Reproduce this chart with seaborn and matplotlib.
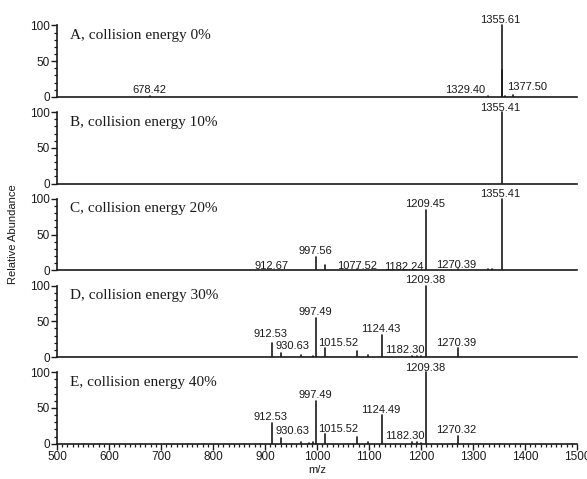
import numpy as np
import pandas as pd
import matplotlib
matplotlib.use("Agg")
import matplotlib.pyplot as plt
from matplotlib.ticker import MultipleLocator, FixedLocator
import seaborn as sns

# ---------------- data ----------------
panel_titles = ["A, collision energy 0%", "B, collision energy 10%",
                "C, collision energy 20%", "D, collision energy 30%",
                "E, collision energy 40%"]

mz_A = [678.42, 1329.40, 1355.61, 1356.61, 1361.0, 1377.50]
int_A = [1, 1.5, 100, 38, 1, 2.5]

mz_B = [1355.41]
int_B = [100]

mz_C = [912.67, 997.56, 1015.52, 1077.52, 1098.0, 1182.24, 1209.45, 1270.39, 1329.0, 1336.0, 1355.41]
int_C = [1, 19, 8, 2, 1, 1, 84, 2.5, 1.5, 1.5, 100]

mz_D = [912.53, 930.63, 970.0, 993.0, 997.49, 1015.52, 1077.0, 1098.0, 1124.43, 1182.30, 1192.0, 1200.0, 1209.38, 1270.39]
int_D = [20, 6, 2.5, 2, 54, 12, 8, 3, 31, 2, 2, 1.5, 100, 12]

mz_E = [912.53, 930.63, 970.0, 985.0, 993.0, 997.49, 1015.52, 1077.0, 1098.0, 1124.49, 1182.30, 1192.0, 1200.0, 1209.38, 1270.32]
int_E = [29, 8, 3, 1.5, 2, 60, 13, 9, 3, 40, 2, 2.5, 1.5, 100, 11]

# labelled peaks per panel
labels_A = ["678.42", "1329.40", "1355.61", "1377.50"]
labels_B = ["1355.41"]
labels_C = ["912.67", "997.56", "1077.52", "1182.24", "1209.45", "1270.39", "1355.41"]
labels_D = ["912.53", "930.63", "997.49", "1015.52", "1124.43", "1182.30", "1209.38", "1270.39"]
labels_E = ["912.53", "930.63", "997.49", "1015.52", "1124.49", "1182.30", "1209.38", "1270.32"]

y_ticks = [0, 50, 100]
x_ticks = [500, 600, 700, 800, 900, 1000, 1100, 1200, 1300, 1400, 1500]

# ---------------- layout (label placement: ha, x-shift in m/z, baseline height) ----------------
label_layout = [
    {"678.42": ("center", 0, 6), "1329.40": ("right", -5, 6),
     "1355.61": ("center", -3, 104), "1377.50": ("left", -11, 9.4)},
    {"1355.41": ("center", -3, 102)},
    {"912.67": ("center", -1, 2.4), "997.56": ("center", 0, 23.4),
     "1077.52": ("center", -1, 2), "1182.24": ("center", -16, 0.5),
     "1209.45": ("center", -2, 88.7), "1270.39": ("center", -3, 3.5),
     "1355.41": ("center", -3, 102.7)},
    {"912.53": ("center", -1, 28), "930.63": ("center", 23, 10.8),
     "997.49": ("center", -1, 58.8), "1015.52": ("left", -13, 16),
     "1124.43": ("center", -1, 34.6), "1182.30": ("right", 24, 6.3),
     "1209.38": ("center", -2, 103), "1270.39": ("center", -3, 16)},
    {"912.53": ("center", -1, 33), "930.63": ("center", 23, 13.2),
     "997.49": ("center", -1, 63.6), "1015.52": ("left", -13, 16.8),
     "1124.49": ("center", -1, 43.4), "1182.30": ("right", 24, 6.6),
     "1209.38": ("center", -2, 102), "1270.32": ("center", -3, 14.6)},
]

panels = [(mz_A, int_A, labels_A), (mz_B, int_B, labels_B), (mz_C, int_C, labels_C),
          (mz_D, int_D, labels_D), (mz_E, int_E, labels_E)]

sns.set_style("ticks")
plt.rcParams["font.family"] = ["Liberation Sans", "DejaVu Sans"]

fig = plt.figure(figsize=(5.87, 4.79), dpi=100)
gs = fig.add_gridspec(5, 1, left=57 / 587, right=577 / 587,
                      bottom=(479 - 443.7) / 479, top=1 - 10.2 / 479, hspace=0)
axes = [fig.add_subplot(gs[i]) for i in range(5)]

ink = "#1a1a1a"
for i, (ax, (mzs, ints, labs)) in enumerate(zip(axes, panels)):
    rows = []
    for k, (m, h) in enumerate(zip(mzs, ints)):
        rows.append({"mz": m, "ab": 0.0, "pid": k})
        rows.append({"mz": m, "ab": h, "pid": k})
    df = pd.DataFrame(rows)
    sns.lineplot(data=df, x="mz", y="ab", units="pid", estimator=None,
                 color=ink, lw=1.2, ax=ax, sort=False, legend=False)
    ax.set_xlim(500, 1500)
    ax.set_ylim(0, 121.4)
    ax.set_facecolor("none")
    for s in ["top", "right"]:
        ax.spines[s].set_visible(False)
    ax.spines["left"].set_bounds(0, 100)
    for s in ["left", "bottom"]:
        ax.spines[s].set_linewidth(1.2)
        ax.spines[s].set_color(ink)
    ax.yaxis.set_major_locator(FixedLocator(y_ticks))
    ax.yaxis.set_minor_locator(FixedLocator(list(range(0, 101, 10))))
    ax.tick_params(axis="y", which="major", length=4, width=1, color=ink,
                   labelsize=8.5, pad=1, labelcolor=ink)
    ax.tick_params(axis="y", which="minor", length=2.2, width=0.9, color=ink)
    ax.set_xlabel("")
    ax.set_ylabel("")
    if i < 4:
        ax.tick_params(axis="x", which="both", bottom=False, labelbottom=False)
    else:
        ax.xaxis.set_major_locator(FixedLocator(x_ticks))
        ax.xaxis.set_minor_locator(MultipleLocator(10))
        ax.tick_params(axis="x", which="major", length=4, width=1, color=ink,
                       labelsize=8.5, pad=1, labelcolor=ink)
        ax.tick_params(axis="x", which="minor", length=2.2, width=0.9, color=ink)
        ax.set_xlabel("m/z", fontsize=8, color=ink, labelpad=2)
    # panel title
    ax.text(525, 81, panel_titles[i], family="Liberation Serif", fontsize=11,
            color=ink, ha="left", va="baseline")
    # peak labels
    lay = label_layout[i]
    for lab in labs:
        ha, dx, yb = lay[lab]
        ax.text(float(lab) + dx, yb, lab, ha=ha, va="baseline", fontsize=8,
                color=ink, clip_on=False)

fig.text(0.022, (479 - 234) / 479, "Relative Abundance", rotation=90,
         ha="center", va="center", fontsize=8, color=ink)

fig.savefig("out.png", dpi=100)
